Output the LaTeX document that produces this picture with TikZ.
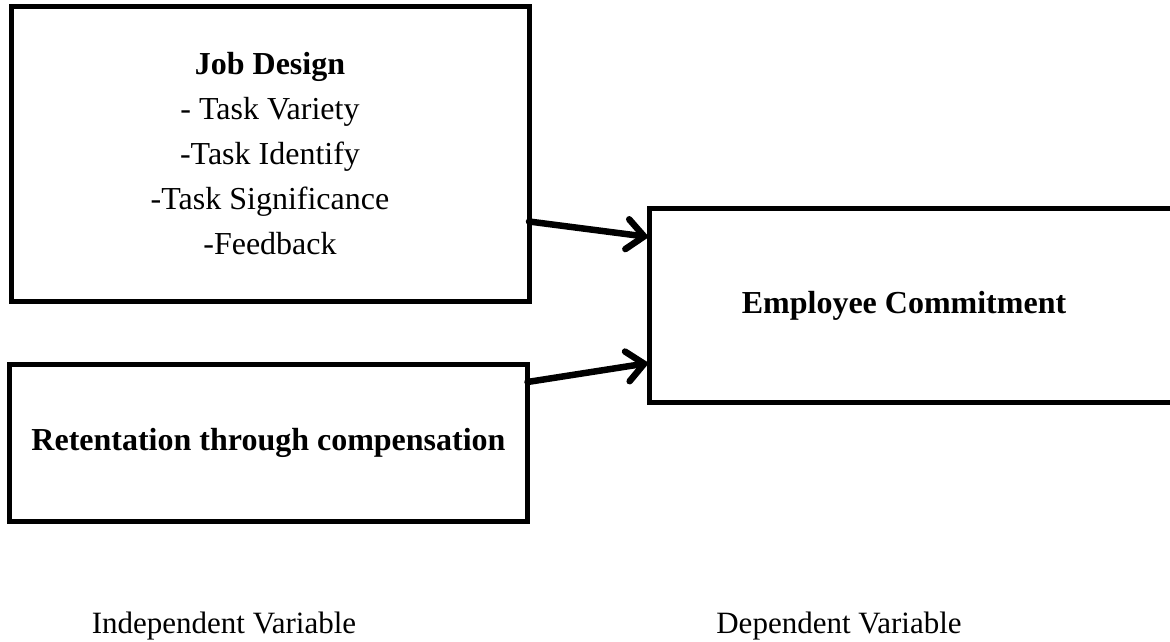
\documentclass[tikz,border=0pt]{standalone}
\usepackage{fontspec}
\setmainfont{Liberation Serif}
\usetikzlibrary{arrows.meta}

\begin{document}
\begin{tikzpicture}[x=1pt, y=-1pt,
    box/.style={draw, line width=5pt, inner sep=0pt, outer sep=0pt, align=center,
        font=\fontsize{32}{45}\selectfont},
    link/.style={line width=6.5pt, line cap=round,
        -{Straight Barb[length=17pt, width=30pt, line cap=round]}},
    caption/.style={font=\fontsize{31}{38}\selectfont, anchor=base}]
    \useasboundingbox (0,0) rectangle (1170,642);

    % independent variables
    \node[box, minimum width=518pt, minimum height=294.5pt] (design) at (270,153.75)
        {\textbf{Job Design}\\- Task Variety\\-Task Identify\\-Task Significance\\-Feedback};
    \node[box, minimum width=518pt, minimum height=157pt] (retain) at (268.5,443)
        {\textbf{Retentation through compensation}};

    % dependent variable (runs off the right edge)
    \node[box, minimum width=531pt, minimum height=194pt] (commit) at (914.5,305.5) {};
    \node[font=\fontsize{32}{45}\selectfont\bfseries] (committext) at (904,305.5)
        {Employee Commitment};

    \draw[link] ([yshift=-67.75pt]design.east) -- ([yshift=68.5pt]commit.west);
    \draw[link] ([yshift=61pt]retain.east) -- ([yshift=-57.5pt]commit.west);

    \node[caption] (indep) at (224,633) {Independent Variable};
    \node[caption] (dep) at (839,633) {Dependent Variable};
\end{tikzpicture}
\end{document}
